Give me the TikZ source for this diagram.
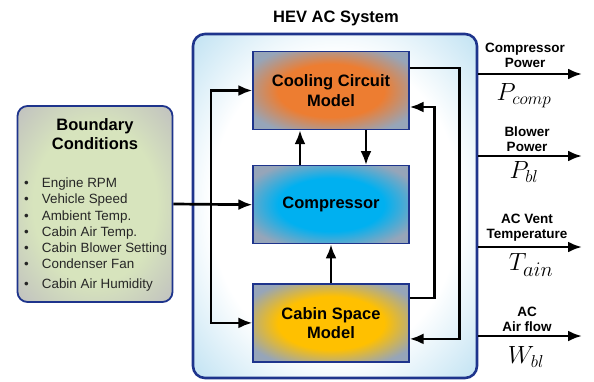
\documentclass[tikz,border=0pt]{standalone}
\usepackage{amsmath}
\usepackage{fontspec}
\setsansfont{Liberation Sans}
\usepackage{tikz}
\usetikzlibrary{arrows.meta,positioning}
\usepackage{xcolor}

\definecolor{navy}{RGB}{30,52,140}
\definecolor{ccorange}{RGB}{237,125,49}
\definecolor{compblue}{RGB}{0,176,240}
\definecolor{cabgold}{RGB}{255,192,0}
\definecolor{bndgreen}{RGB}{215,228,189}
\definecolor{edgegray}{RGB}{150,165,185}
\definecolor{syslight}{RGB}{190,225,242}

\pgfdeclareradialshading{coolshade}{\pgfpoint{0bp}{0bp}}{color(0bp)=(ccorange); color(17bp)=(ccorange); color(30bp)=(edgegray); color(50bp)=(edgegray)}
\pgfdeclareradialshading{compshade}{\pgfpoint{0bp}{0bp}}{color(0bp)=(compblue); color(17bp)=(compblue); color(30bp)=(edgegray); color(50bp)=(edgegray)}
\pgfdeclareradialshading{cabshade}{\pgfpoint{0bp}{0bp}}{color(0bp)=(cabgold); color(17bp)=(cabgold); color(30bp)=(edgegray); color(50bp)=(edgegray)}
\pgfdeclareradialshading{bndshade}{\pgfpoint{0bp}{0bp}}{color(0bp)=(bndgreen); color(20bp)=(bndgreen); color(36bp)=(black!25); color(50bp)=(black!25)}
\pgfdeclareradialshading{sysshade}{\pgfpoint{0bp}{0bp}}{color(0bp)=(white); color(22bp)=(white); color(36bp)=(syslight); color(50bp)=(syslight)}

\begin{document}
\begin{tikzpicture}[x=1pt, y=-1pt,
    block/.style={draw=navy, line width=1.2pt, minimum width=156pt, minimum height=78pt,
        align=center, font=\sffamily\bfseries\fontsize{16.5}{19.5}\selectfont},
    arr/.style={-{Latex[length=14pt,width=11pt]}, line width=2.7pt},
    lbl/.style={align=center, inner sep=0pt, font=\sffamily\bfseries\fontsize{13.5}{15}\selectfont},
    sig/.style={inner sep=0pt, font=\fontsize{24}{26}\selectfont}]
    \useasboundingbox (0,0) rectangle (594,381);

    % Outer system box
    \node[draw=navy, line width=2.6pt, rounded corners=12pt, minimum width=284pt,
        minimum height=344pt, shading=sysshade] (sys) at (335,206) {};
    \node[font=\sffamily\bfseries\fontsize{16.5}{19.5}\selectfont] (title) at (336,18) {HEV AC System};

    % Model blocks
    \node[block, shading=coolshade] (cool) at (331,90.5) {Cooling Circuit\\Model};
    \node[block, shading=compshade, below=35pt of cool] (comp) {Compressor};
    \node[block, shading=cabshade, below=39pt of comp] (cabin) {Cabin Space\\Model};

    % Boundary conditions
    \node[draw=navy, line width=1.8pt, rounded corners=10pt, minimum width=155pt,
        minimum height=196pt, shading=bndshade] (bound) at (95,204) {};
    \node[align=center, font=\sffamily\bfseries\fontsize{16.5}{19}\selectfont] (bndtitle) at (95,134) {Boundary\\Conditions};
    \foreach \y/\txt [count=\i] in {187/Engine RPM, 203/Vehicle Speed, 220/Ambient Temp.,
        236/Cabin Air Temp., 252/Cabin Blower Setting, 268/Condenser Fan, 288/Cabin Air Humidity}
        \node[anchor=base west, inner sep=0pt, text=black!85,
            font=\sffamily\fontsize{13.4}{15}\selectfont] (cond\i) at (24,\y) {\textbullet\hspace{13pt}\txt};

    % Inputs into the models
    \coordinate (lsplit) at (211,204);
    \draw[arr] (bound.east) -- (comp.west);
    \draw[arr] (lsplit) |- (cool.west);
    \draw[arr] (lsplit) |- (cabin.west);

    % Links between the models
    \draw[arr] ([xshift=-31pt]comp.north) -- ([xshift=-31pt]cool.south);
    \draw[arr] ([xshift=35pt]cool.south) -- ([xshift=35pt]comp.north);
    \draw[arr] (cabin.north) -- (comp.south);
    \draw[arr] ([yshift=22.5pt]cool.east) -- ++(50,0) |- ([yshift=-16pt]cabin.east);
    \draw[arr] ([yshift=25pt]cabin.east) -- ++(25,0) |- ([yshift=-16.5pt]cool.east);

    % Outputs
    \coordinate (pc) at (582,74);
    \coordinate (pb) at (582,156);
    \coordinate (ta) at (582,247);
    \coordinate (wb) at (582,336);
    \draw[arr] (sys.east |- pc) -- (pc);
    \draw[arr] (sys.east |- pb) -- (pb);
    \draw[arr] (sys.east |- ta) -- (ta);
    \draw[arr] (sys.east |- wb) -- (wb);

    \node[lbl] (pclbl) at (525,55) {Compressor\\Power};
    \node[lbl] (pblbl) at (527,139) {Blower\\Power};
    \node[lbl] (talbl) at (527,228) {AC Vent\\Temperature};
    \node[lbl] (wblbl) at (527,319) {AC\\Air flow};
    \node[sig] (pcsig) at (524,96) {$P_{comp}$};
    \node[sig] (pbsig) at (524,172) {$P_{bl}$};
    \node[sig, font=\fontsize{28}{30}\selectfont] (tasig) at (531,265) {$T_{ain}$};
    \node[sig, font=\fontsize{25}{27}\selectfont] (wbsig) at (526,357) {$W_{bl}$};
\end{tikzpicture}
\end{document}
